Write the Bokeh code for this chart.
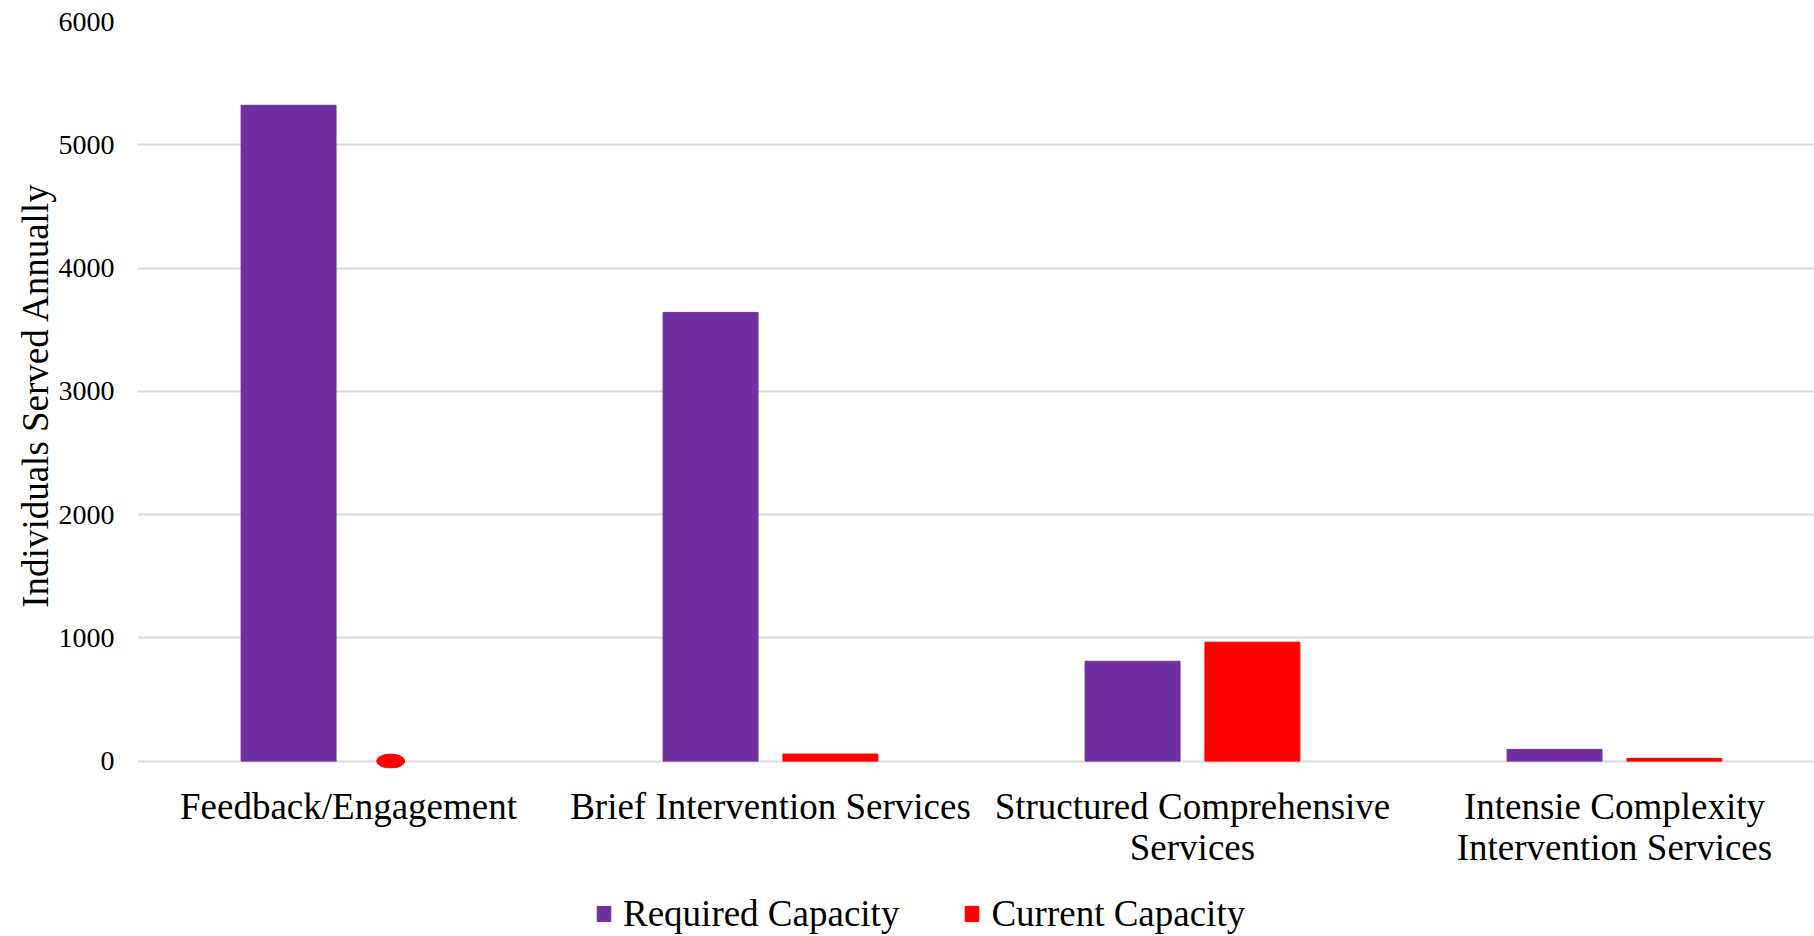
from bokeh.plotting import figure
from bokeh.layouts import column
from bokeh.models import Range1d, FixedTicker, Legend, LegendItem, ColumnDataSource
from bokeh.embed import file_html
from bokeh.resources import INLINE

# Service tiers and annual capacity (individuals served)
categories = [
    "Feedback/Engagement",
    "Brief Intervention Services",
    "Structured Comprehensive\nServices",
    "Intensie Complexity\nIntervention Services",
]
required_capacity = [5320, 3640, 810, 95]
current_capacity = [0, 57, 965, 22]
y_ticks = [0, 1000, 2000, 3000, 4000, 5000, 6000]
series_names = ["Required Capacity", "Current Capacity"]

PURPLE = "#7030A0"
RED = "#FF0000"
FONT = "Liberation Serif"

centers = [i + 0.5 for i in range(len(categories))]
bar_w = 0.225
offset = 0.142

# a little room below zero so the zero-value oval is not cut by the frame
p = figure(
    width=1814, height=880,
    output_backend="svg", toolbar_location=None,
    x_range=Range1d(0, 3.974), y_range=Range1d(-60, 6000),
    min_border_left=137, min_border_right=0,
    min_border_top=21, min_border_bottom=112,
)
p.outline_line_color = None
p.background_fill_color = "white"
p.border_fill_color = "white"

src = ColumnDataSource(dict(
    x_req=[c - offset for c in centers],
    req=required_capacity,
))
p.vbar(x="x_req", top="req", width=bar_w, source=src,
       fill_color=PURPLE, line_color=PURPLE)

# current-capacity bars with a value; a zero value is shown as a small oval
cur_nonzero = ColumnDataSource(dict(
    x=[c + offset for c, v in zip(centers, current_capacity) if v > 0],
    top=[v for v in current_capacity if v > 0],
))
cur_zero = ColumnDataSource(dict(
    x=[c + 0.1 for c, v in zip(centers, current_capacity) if v == 0],
    y=[v for v in current_capacity if v == 0],
))
p.vbar(x="x", top="top", width=bar_w, source=cur_nonzero,
       fill_color=RED, line_color=RED)
p.ellipse(x="x", y="y", width=28, height=14, width_units="screen",
          height_units="screen", source=cur_zero, fill_color=RED, line_color=RED)

# axes
p.xaxis.ticker = FixedTicker(ticks=centers)
p.xaxis.major_label_overrides = {c: lab for c, lab in zip(centers, categories)}
p.xaxis.major_tick_line_color = None
p.xaxis.major_tick_out = 0
p.xaxis.major_tick_in = 0
p.xaxis.minor_tick_line_color = None
p.xaxis.axis_line_color = None
p.xaxis.major_label_text_font = FONT
p.xaxis.major_label_text_font_size = "37px"
p.xaxis.major_label_text_color = "black"
p.xaxis.major_label_text_line_height = 1.02
p.xaxis.major_label_standoff = 17

p.yaxis.ticker = FixedTicker(ticks=y_ticks)
p.yaxis.major_tick_line_color = None
p.yaxis.major_tick_out = 0
p.yaxis.major_tick_in = 0
p.yaxis.minor_tick_line_color = None
p.yaxis.axis_line_color = None
p.yaxis.major_label_text_font = FONT
p.yaxis.major_label_text_font_size = "28px"
p.yaxis.major_label_text_color = "black"
p.yaxis.major_label_standoff = 23
p.yaxis.axis_label = "Individuals Served Annually"
p.yaxis.axis_label_text_font = FONT
p.yaxis.axis_label_text_font_size = "37px"
p.yaxis.axis_label_text_font_style = "normal"
p.yaxis.axis_label_text_color = "black"
p.yaxis.axis_label_standoff = 0

p.xgrid.grid_line_color = None
p.ygrid.grid_line_color = "#d9d9d9"
p.ygrid.grid_line_width = 2

# legend strip below the chart; its swatch renderers sit outside the visible range
leg = figure(
    width=1814, height=56,
    output_backend="svg", toolbar_location=None,
    x_range=Range1d(0, 1), y_range=Range1d(0, 1),
    min_border_left=0, min_border_right=0, min_border_top=0, min_border_bottom=0,
)
leg.axis.visible = False
leg.grid.visible = False
leg.outline_line_color = None
leg_req = leg.vbar(x=[10], top=[10], width=0.1, fill_color=PURPLE, line_color=PURPLE)
leg_cur = leg.vbar(x=[10], top=[10], width=0.1, fill_color=RED, line_color=RED)

legend = Legend(
    items=[LegendItem(label=series_names[0], renderers=[leg_req]),
           LegendItem(label=series_names[1], renderers=[leg_cur])],
    orientation="horizontal", location=(458, 1),
    padding=0, margin=0, spacing=64,
    glyph_width=17, glyph_height=19, label_standoff=11,
    label_text_font=FONT, label_text_font_size="37px", label_text_color="black",
    border_line_color=None, background_fill_alpha=0,
)
leg.add_layout(legend, "center")

open("out.html", "w").write(file_html(column(p, leg, spacing=0), INLINE))
